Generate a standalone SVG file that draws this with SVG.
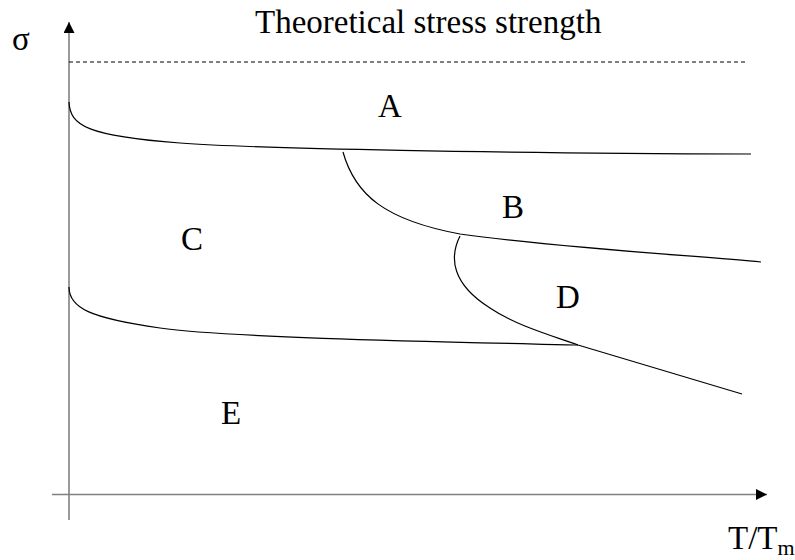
<svg xmlns="http://www.w3.org/2000/svg" width="795" height="560" viewBox="0 0 795 560">
<style>
text{font-family:"Liberation Serif","Times New Roman",serif;fill:#000}
.lbl{font-size:33px}
.axis{stroke:#808080;stroke-width:1.6;fill:none}
.curve{stroke:#000;stroke-width:1.2;fill:none}
</style>
<defs>
<marker id="ah" markerUnits="userSpaceOnUse" markerWidth="12" markerHeight="12" viewBox="0 0 12 12" refX="11" refY="5.5" orient="auto">
<path d="M0,0 L11,5.5 L0,11 Z" fill="#000"/>
</marker>
</defs>
<g id="axes">
<line class="axis" x1="69" y1="520" x2="69" y2="22" marker-end="url(#ah)"/>
<line class="axis" x1="52" y1="494.5" x2="767" y2="494.5" marker-end="url(#ah)"/>
<line x1="69" y1="62" x2="745" y2="62" stroke="#000" stroke-width="1" stroke-dasharray="4,3"/>
</g>
<g id="connectors">
<path class="curve" d="M69,102 C70,126 88,136 180,143 C260,149 500,153 751,154"/>
<path class="curve" d="M343,152 C355,195 385,220 460,234 C560,248 700,256 761,262"/>
<path class="curve" d="M460,236 C449,258 452,284 490,308 C515,325 550,335 578,345 L742,394"/>
<path class="curve" d="M69,287 C69,308 90,318 160,328 C230,338 450,342 578,345"/>
</g>
<g id="title"><text class="lbl" x="255" y="33">Theoretical stress strength</text></g>
<g id="sigma"><text class="lbl" x="12" y="50">σ</text></g>
<g id="A"><text class="lbl" x="378" y="117">A</text></g>
<g id="B"><text class="lbl" x="502" y="218">B</text></g>
<g id="C"><text class="lbl" x="181" y="250">C</text></g>
<g id="D"><text class="lbl" x="556" y="308">D</text></g>
<g id="E"><text class="lbl" x="221" y="424">E</text></g>
<g id="xlabel"><text class="lbl" x="728" y="549">T/T<tspan font-size="22" dy="6">m</tspan></text></g>
</svg>
